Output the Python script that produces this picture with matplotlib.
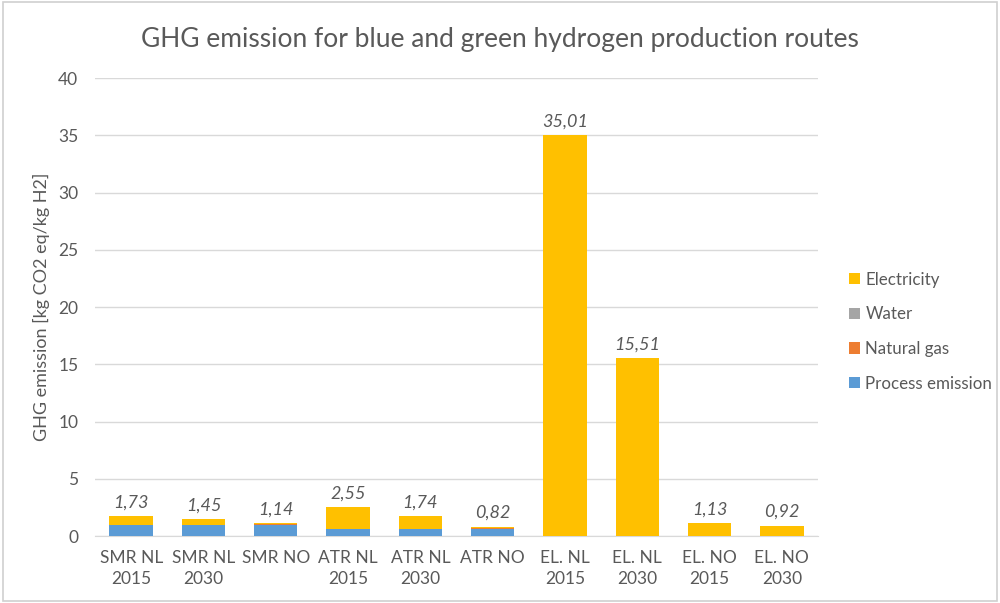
import matplotlib
matplotlib.use("Agg")
import matplotlib.pyplot as plt
from matplotlib.patches import Rectangle
import numpy as np

plt.rcParams['font.family'] = ['Lato', 'DejaVu Sans']

categories = ["SMR NL\n2015", "SMR NL\n2030", "SMR NO", "ATR NL\n2015", "ATR NL\n2030",
              "ATR NO", "EL. NL\n2015", "EL. NL\n2030", "EL. NO\n2015", "EL. NO\n2030"]
process_emission = [0.93, 0.93, 0.93, 0.60, 0.60, 0.60, 0.0, 0.0, 0.0, 0.0]
natural_gas = [0.05, 0.05, 0.10, 0.05, 0.05, 0.12, 0.0, 0.0, 0.0, 0.0]
water = [0.0, 0.0, 0.0, 0.0, 0.0, 0.0, 0.0, 0.0, 0.0, 0.0]
electricity = [0.75, 0.47, 0.11, 1.90, 1.09, 0.10, 35.01, 15.51, 1.13, 0.92]
totals = [1.73, 1.45, 1.14, 2.55, 1.74, 0.82, 35.01, 15.51, 1.13, 0.92]

series = [
    ("Process emission", process_emission, "#5B9BD5"),
    ("Natural gas", natural_gas, "#ED7D31"),
    ("Water", water, "#A5A5A5"),
    ("Electricity", electricity, "#FFC000"),
]

text_col = "#595959"
fig = plt.figure(figsize=(10, 6.03), dpi=100)
fig.patches.append(Rectangle((0.003, 0.003), 0.994, 0.994, transform=fig.transFigure,
                             fill=False, edgecolor="#D0D0D0", linewidth=1.2))
ax = fig.add_axes([0.095, 0.111, 0.723, 0.7595])

x = np.arange(len(categories))
bottom = np.zeros(len(categories))
handles = []
for name, vals, col in series:
    b = ax.bar(x, vals, 0.6, bottom=bottom, color=col, label=name, zorder=3)
    handles.append(b)
    bottom += np.array(vals)

for xi, t in zip(x, totals):
    ax.text(xi, t + 0.5, f"{t:.2f}".replace(".", ","), ha="center", va="bottom",
            fontsize=13, style="italic", color=text_col)

ax.set_xlim(-0.5, len(categories) - 0.5)
ax.set_ylim(0, 40)
ax.set_yticks(np.arange(0, 41, 5))
ax.yaxis.grid(True, color="#D9D9D9", linewidth=1, zorder=0)
ax.set_xticks(x)
ax.set_xticklabels(categories, linespacing=1.4)
ax.tick_params(axis="both", length=0, labelsize=12.5, colors=text_col, pad=10)
ax.tick_params(axis="y", pad=12)
for s in ["top", "right", "left"]:
    ax.spines[s].set_visible(False)
ax.spines["bottom"].set_color("#D9D9D9")
ax.set_ylabel("GHG emission [kg CO2 eq/kg H2]", fontsize=13, color=text_col, labelpad=6)

fig.suptitle("GHG emission for blue and green hydrogen production routes",
             fontsize=19, color=text_col, y=0.955)

leg = fig.legend(handles[::-1], [s[0] for s in series][::-1], loc="center left",
                 bbox_to_anchor=(0.834, 0.45), frameon=False, fontsize=12.2,
                 labelcolor=text_col, handlelength=0.65, handleheight=0.65,
                 handletextpad=0.3, labelspacing=1.1)

fig.savefig("out.png", dpi=100)
